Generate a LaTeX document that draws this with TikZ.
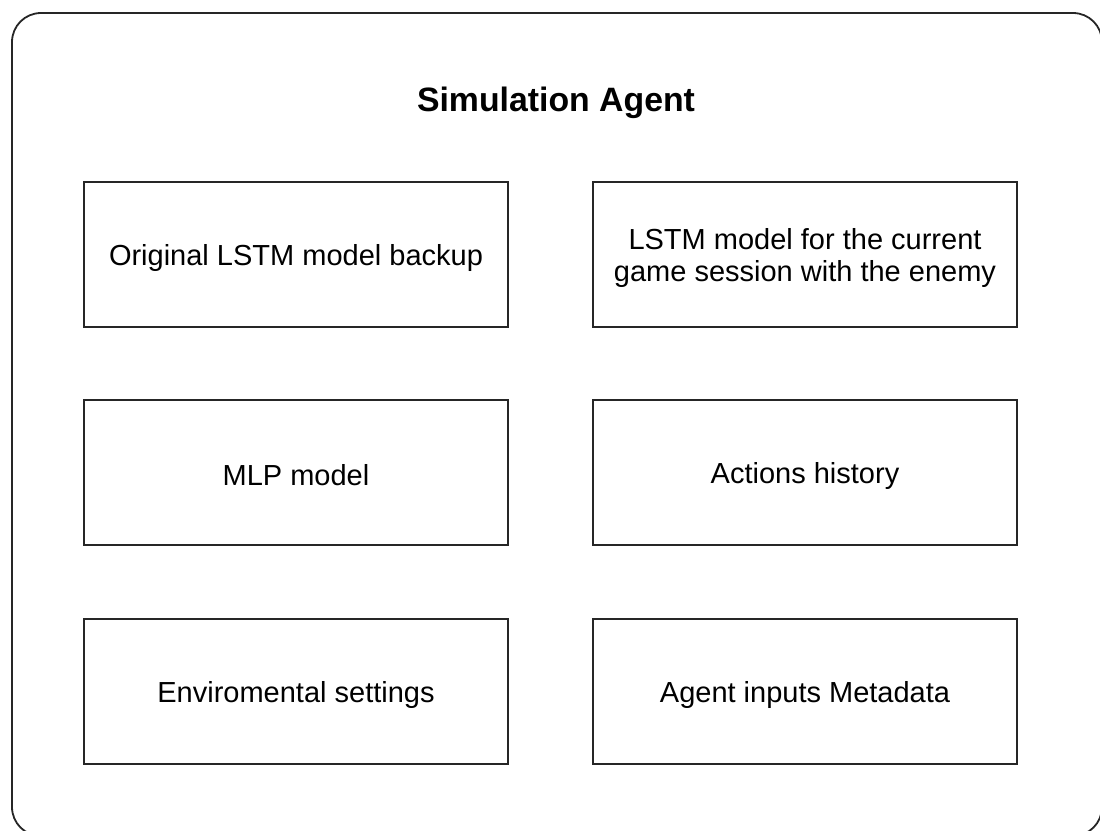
\documentclass[tikz,border=0pt]{standalone}
\usepackage{fontspec}
\setmainfont{Liberation Sans}
\begin{document}
\begin{tikzpicture}[x=1pt,y=-1pt,
  box/.style={draw=black!85, line width=1.8pt, minimum width=424pt, minimum height=145pt, inner sep=0pt},
  lbl/.style={align=center, inner sep=0pt, font=\fontsize{29}{32}\selectfont},
  outer/.style={draw=black!85, line width=1.8pt, rounded corners=29pt},
  title/.style={font=\fontsize{33.8}{40}\selectfont\bfseries}]
\useasboundingbox (0,0) rectangle (1100,830);
\draw[outer] (12,13) rectangle (1102,836);
\node[title] (t) at (556,103) {Simulation Agent};
\node[box] (a) at (296,254.5) {};
\node[box] (b) at (805,254.5) {};
\node[box] (c) at (296,472.5) {};
\node[box] (d) at (805,472.5) {};
\node[box] (e) at (296,691.5) {};
\node[box] (f) at (805,691.5) {};
\node[lbl] (la) at ([yshift=-3pt]a.center) {Original LSTM model backup};
\node[lbl] (lb) at ([yshift=-3pt]b.center) {LSTM model for the current\\game session with the enemy};
\node[lbl] (lc) at ([yshift=-3pt]c.center) {MLP model};
\node[lbl] (ld) at ([yshift=-3pt]d.center) {Actions history};
\node[lbl] (le) at ([yshift=-3pt]e.center) {Enviromental settings};
\node[lbl] (lf) at ([yshift=-3pt]f.center) {Agent inputs Metadata};
\end{tikzpicture}
\end{document}
